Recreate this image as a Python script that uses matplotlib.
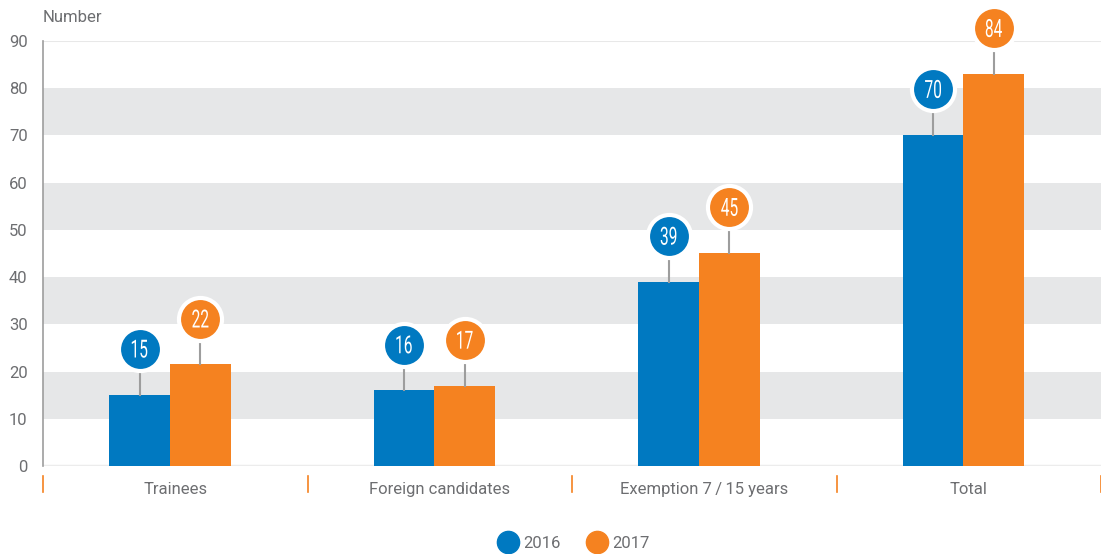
import numpy as np
import matplotlib.pyplot as plt
from matplotlib import transforms
from matplotlib.textpath import TextPath
from matplotlib.patches import PathPatch
from matplotlib.font_manager import FontProperties

plt.rcParams['font.family'] = ['Roboto', 'DejaVu Sans']

categories = ["Trainees", "Foreign candidates", "Exemption 7\u2009/\u200915 years", "Total"]
years = ["2016", "2017"]
values_2016 = [15, 16, 39, 70]
values_2017 = [22, 17, 45, 84]
bar_2016 = [15.1, 16.0, 39.0, 70.1]
bar_2017 = [21.5, 17.0, 45.1, 83.0]
yticks = [0, 10, 20, 30, 40, 50, 60, 70, 80, 90]

blue = "#0079c1"
orange = "#f58220"
grey_txt = "#6d6e71"

fig = plt.figure(figsize=(11.01, 5.54), dpi=100)
ax = fig.add_axes([43 / 1101, 1 - 466 / 554, 1 - 43 / 1101, (466 - 41) / 554])

# grey bands
for lo in [10, 30, 50, 70]:
    ax.axhspan(lo, lo + 10, color="#e6e7e8", lw=0, zorder=0)
ax.axhline(90, color="#e8e8e8", lw=1.5, zorder=0)
ax.axhline(0, color="#ececec", lw=2.5, zorder=1)

x = np.arange(len(categories)) - 0.02
w = 0.23
ax.bar(x - w / 2, bar_2016, w, color=blue, zorder=2)
ax.bar(x + w / 2, bar_2017, w, color=orange, zorder=2)


def condensed_label(xi, yi, s):
    # narrow white number drawn as a squeezed text path
    tp = TextPath((0, 0), s, size=25, prop=FontProperties(family='Roboto'))
    ext = tp.get_extents()
    tr = (transforms.Affine2D()
          .translate(-(ext.x0 + ext.x1) / 2, -(ext.y0 + ext.y1) / 2)
          .scale(0.62, 1.0)
          .translate(0, 46)
          + transforms.ScaledTranslation(xi, yi, ax.transData))
    ax.add_patch(PathPatch(tp, transform=tr, fc='white', lw=0, zorder=5, clip_on=False))


up = transforms.offset_copy(ax.transData, fig=fig, x=0, y=33, units='points')
for xs, vals, tops, col in [(x - w / 2, values_2016, bar_2016, blue),
                            (x + w / 2, values_2017, bar_2017, orange)]:
    for xi, v, t in zip(xs, vals, tops):
        ax.plot([xi, xi], [t, t + 9.7], color="#9d9d9d", lw=1.5, zorder=3, clip_on=False)
        ax.plot([xi], [t], marker='o', ms=31, mfc=col, mec='white', mew=3,
                transform=up, zorder=4, clip_on=False)
        condensed_label(xi, t, str(v))

ax.set_xlim(-0.5, 3.5)
ax.set_ylim(0, 90)
ax.set_yticks(yticks)
ax.set_xticks(range(len(categories)))
ax.set_xticklabels(categories)
ax.tick_params(axis='both', length=0, labelsize=12, colors=grey_txt)
ax.tick_params(axis='x', pad=11.5)
ax.tick_params(axis='y', pad=11)
for s in ['top', 'right', 'bottom']:
    ax.spines[s].set_visible(False)
ax.spines['left'].set_color("#9d9d9d")
ax.spines['left'].set_linewidth(1.2)

# orange separators between categories
for b in np.arange(-0.5, 4.0, 1.0):
    ax.plot([b, b], [-2.1, -5.5], color=orange, lw=1.2, clip_on=False)

fig.text(43 / 1101, 1 - 18 / 554, "Number", ha='left', va='center', fontsize=12, color=grey_txt)

handles = [plt.Line2D([], [], ls='', marker='o', ms=16, mfc=c, mec=c) for c in [blue, orange]]
leg = fig.legend(handles, years, loc='center', bbox_to_anchor=(574 / 1101, 1 - 543 / 554),
                 ncol=2, frameon=False, fontsize=12, handletextpad=0.3, columnspacing=1.6,
                 handlelength=1.2)
for t in leg.get_texts():
    t.set_color(grey_txt)

fig.savefig("out.png", dpi=100)
